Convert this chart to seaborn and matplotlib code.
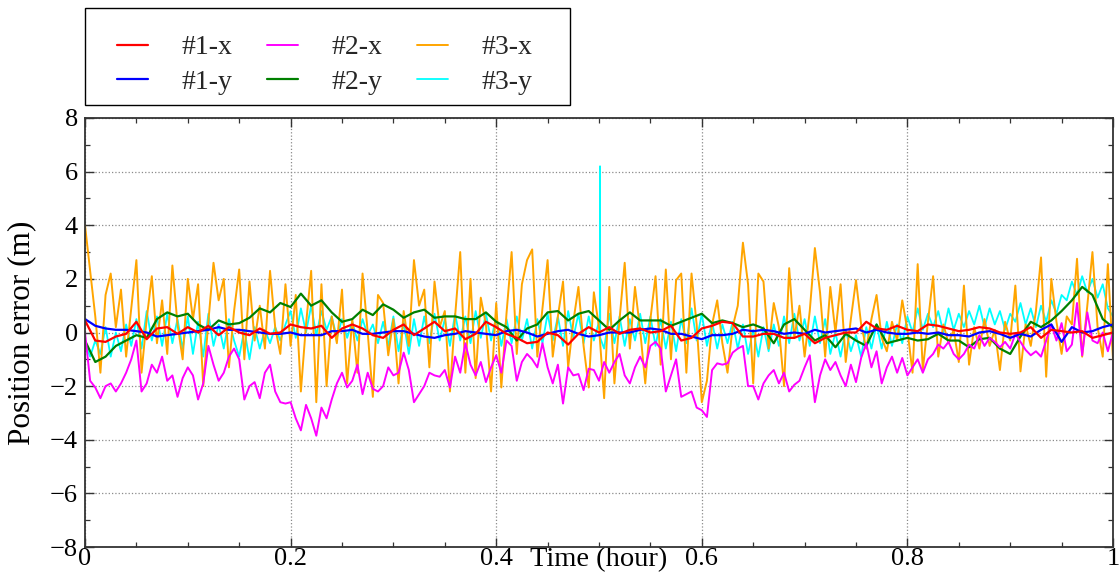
import numpy as np
import pandas as pd
import matplotlib
matplotlib.use("Agg")
import matplotlib.pyplot as plt
import seaborn as sns
from matplotlib.ticker import MultipleLocator, FuncFormatter
from matplotlib.patches import Rectangle

# ---------------- data ----------------
labels = ["#1-x", "#1-y", "#2-x", "#2-y", "#3-x", "#3-y"]
colors = ["#ff0000", "#0000ff", "#ff00ff", "#008000", "#ffa500", "#00ffff"]

t_fine = np.linspace(0.0, 1.0, 201)    # 0.005 h sampling
t_coarse = np.linspace(0.0, 1.0, 101)  # 0.01 h sampling

s1x = [0.45, -0.3, -0.35, -0.15, -0.05, 0.4, -0.25, 0.15, 0.2, -0.05,
       0.2, 0.0, 0.25, -0.1, 0.2, 0.0, -0.1, 0.15, -0.05, 0.0,
       0.3, 0.2, 0.15, 0.25, -0.2, 0.15, 0.3, 0.15, -0.1, -0.2,
       0.1, 0.3, -0.1, 0.15, 0.4, 0.05, 0.15, -0.25, -0.05, 0.4,
       0.2, -0.05, -0.2, -0.4, -0.35, 0.0, -0.1, -0.45, -0.05, 0.2,
       0.0, 0.2, -0.05, 0.1, 0.15, 0.0, 0.05, 0.25, -0.3, -0.2,
       0.15, 0.25, 0.4, 0.35, -0.15, -0.15, -0.05, -0.05, -0.2, -0.2,
       -0.05, -0.4, -0.2, -0.1, 0.0, 0.0, 0.4, 0.15, 0.1, 0.25,
       0.1, 0.05, 0.3, 0.25, 0.15, 0.05, 0.1, 0.2, 0.15, 0.0,
       -0.05, 0.0, 0.2, -0.2, 0.1, 0.05, 0.0, 0.05, -0.2, -0.1,
       0.0]

s1y = [0.5, 0.25, 0.15, 0.1, 0.1, 0.05, 0.0, -0.15, -0.1, -0.05,
       0.0, 0.05, 0.1, 0.2, 0.1, 0.1, 0.05, 0.0, -0.05, -0.05,
       0.0, -0.1, -0.1, -0.1, 0.05, 0.05, 0.1, -0.05, -0.05, 0.0,
       0.05, 0.05, -0.05, -0.15, -0.2, -0.1, -0.05, 0.05, 0.0, -0.05,
       -0.1, 0.05, 0.1, 0.0, -0.15, -0.05, 0.05, 0.1, -0.05, -0.15,
       -0.1, 0.0, 0.0, 0.0, 0.1, 0.15, 0.1, -0.05, -0.05, -0.15,
       -0.25, -0.1, -0.1, -0.05, 0.1, 0.05, 0.1, 0.05, -0.05, 0.0,
       -0.05, 0.1, 0.0, 0.05, 0.1, 0.15, 0.0, 0.1, 0.0, -0.05,
       -0.05, 0.0, -0.05, 0.0, -0.1, -0.1, -0.15, 0.0, 0.05, -0.05,
       -0.2, -0.05, -0.15, 0.1, 0.3, -0.35, 0.2, 0.0, 0.05, 0.2,
       0.3]

s2x = [0.0, -1.8, -2.05, -2.45, -2.0, -1.9, -2.2, -1.9, -1.5, -1.0,
       -0.3, -2.2, -1.9, -1.2, -1.5, -0.9, -1.8, -1.6, -2.4, -1.7,
       -1.3, -1.6, -2.5, -1.9, -0.5, -1.2, -1.8, -1.5, -0.9, -0.6,
       -1.0, -2.5, -2.0, -1.85, -2.45, -1.5, -1.2, -2.2, -2.6, -2.65,
       -2.6, -3.2, -3.65, -2.7, -3.2, -3.85, -2.8, -3.2, -2.5, -1.9,
       -1.5, -2.05, -1.8, -1.2, -2.3, -1.5, -2.1, -2.2, -2.0, -1.3,
       -1.6, -1.5, -0.75, -1.4, -2.6, -2.3, -2.0, -1.5, -1.6, -1.65,
       -1.4, -2.05, -0.9, -1.5, -0.4, -1.2, -1.6, -1.1, -1.85, -1.3,
       -0.85, -1.5, -0.3, -0.5, -1.8, -1.1, -0.8, -1.0, -1.3, -0.4,
       -1.3, -1.9, -1.2, -2.65, -1.3, -1.6, -1.55, -2.15, -1.35, -1.4,
       -1.8, -1.1, -1.5, -1.1, -0.8, -1.6, -1.9, -1.3, -0.9, -1.3,
       -0.5, -0.35, -0.6, -2.2, -1.6, -1.0, -2.4, -2.3, -2.2, -2.8,
       -2.9, -3.15, -1.4, -1.15, -1.2, -1.15, -0.75, -0.6, -0.5, -2.0,
       -2.0, -2.5, -1.9, -1.6, -1.4, -1.9, -1.5, -2.2, -1.95, -1.8,
       -1.3, -0.85, -2.6, -1.6, -1.0, -1.4, -1.1, -1.6, -2.0, -1.2,
       -1.85, -0.95, -0.4, -1.3, -0.7, -1.9, -1.3, -0.9, -1.5, -0.95,
       -1.6, -1.3, -1.0, -1.5, -1.0, -0.8, -0.45, -0.6, -0.35, -0.8,
       -1.0, -0.8, -0.45, -0.6, -0.1, -0.5, -0.2, -0.35, -0.55, -0.35,
       -0.6, -0.05, -0.35, -0.65, -0.85, -0.7, -0.9, -0.3, 0.3, -0.3,
       0.35, -0.7, -0.45, 1.1, -0.85, 0.75, -0.3, -0.4, 0.0, -0.7,
       0.0]

s2y = [-0.3, -1.1, -0.9, -0.5, -0.3, -0.1, -0.2, 0.5, 0.75, 0.6,
       0.7, 0.3, 0.1, 0.45, 0.3, 0.35, 0.55, 0.9, 0.75, 1.1,
       0.95, 1.45, 1.0, 1.2, 0.75, 0.4, 0.5, 0.85, 0.65, 1.05,
       0.85, 0.55, 0.75, 0.85, 0.55, 0.6, 0.6, 0.5, 0.5, 0.75,
       0.4, 0.2, -0.3, 0.15, 0.3, 0.75, 0.8, 0.45, 0.7, 0.8,
       0.45, 0.1, 0.45, 0.75, 0.45, 0.45, 0.45, 0.25, 0.4, 0.55,
       0.7, 0.35, 0.45, 0.35, 0.2, 0.3, 0.15, -0.4, 0.3, 0.5,
       0.1, -0.3, -0.1, -0.55, -0.05, -0.3, -0.5, 0.3, -0.4, -0.3,
       -0.2, -0.3, -0.25, -0.05, -0.3, -0.3, -0.55, -0.25, -0.2, -0.6,
       -0.8, -0.15, 0.4, 0.2, 0.45, 0.8, 1.2, 1.7, 1.4, 0.5,
       0.2]

s3x = [4.0, 2.3, 0.6, -1.5, 1.4, 2.2, 0.2, 1.6, -0.9, 0.9,
       2.7, -1.5, 0.5, 2.1, -0.4, 1.2, -0.8, 2.5, 0.3, -1.0,
       2.0, 0.5, 1.8, -2.0, 0.4, 2.6, 1.2, 2.0, -1.3, 0.8,
       2.35, -1.0, 1.9, -0.3, 1.0, -0.6, 2.3, 0.2, -0.8, 1.8,
       -0.5, 1.4, -2.2, 0.3, 2.3, -2.6, 1.8, -2.0, 0.6, -0.4,
       1.6, -1.9, 0.5, -1.5, 2.2, 0.0, -2.4, 1.4, 1.1, -0.85,
       0.5, -1.9, 0.8, -0.5, 2.7, 1.0, 1.6, -1.3, 1.9, 0.2,
       0.8, -2.2, 0.6, 3.0, -1.5, 2.0, -1.7, 1.3, 0.3, -2.2,
       1.1, -2.05, 0.7, 3.0, -0.8, 1.8, 2.7, 3.1, -0.9, 0.9,
       2.7, -0.9, 0.6, 1.9, -1.3, 0.4, 1.7, -0.5, -2.05, 1.5,
       0.2, -2.45, 1.7, -1.9, 0.5, 2.6, -0.6, 1.7, 0.1, -1.9,
       0.5, 2.1, -1.2, 2.35, -1.0, 1.95, 2.2, -1.5, 2.2, 0.3,
       -2.6, -1.8, 0.3, 1.2, -0.4, -1.5, 0.2, 1.0, 3.35, 1.8,
       -1.9, 2.2, 1.9, -0.6, 1.1, 0.2, -2.0, 2.4, -0.2, 1.0,
       -0.9, 0.8, 3.15, 1.5, -0.9, 1.7, 0.0, 1.8, -1.1, 0.5,
       1.95, 0.3, -0.6, 0.5, 1.4, -0.2, -0.7, 0.4, -0.3, 1.2,
       0.1, -1.5, 2.55, -1.4, 0.4, 2.1, -0.9, 0.3, -0.4, 0.1,
       -1.1, 1.75, -1.2, 0.2, -0.6, 0.5, -0.5, 0.1, -1.4, 0.4,
       -0.3, 1.75, -1.45, 0.3, -0.5, 0.8, 2.8, -1.65, 2.0, 0.4,
       -0.8, 0.6, 0.3, 2.75, -0.9, 1.0, 3.0, 0.2, -0.9, 2.55,
       -1.0]

s3y = [-0.4, -0.9, -0.3, -0.8, 0.2, -0.9, 0.0, -0.7, 0.3, -0.5,
       0.5, -0.6, 0.8, -0.3, 0.6, -0.5, 0.7, -0.4, 0.5, -0.6,
       0.6, -0.8, 0.4, -0.9, 0.7, -0.5, 0.3, -0.6, 0.5, -0.3,
       -0.9, 0.1, -1.0, 0.2, -0.6, 0.1, -0.4, 0.2, -0.3, 0.3,
       0.8, -0.2, 0.9, 0.0, 1.0, -0.1, 0.8, 0.1, 0.6, -0.2,
       0.5, -0.2, 0.4, -0.3, 0.5, -0.1, 0.3, -0.4, 0.4, -0.5,
       0.6, -0.7, 0.4, -0.8, 0.5, -0.5, 0.6, -0.4, 0.7, -0.3,
       0.5, -0.5, 0.7, -0.3, 0.6, -0.4, 0.8, -0.2, 0.7, -0.3,
       0.6, -0.5, 0.5, -0.4, 0.6, -0.3, 0.5, -0.6, 0.5, -0.4,
       0.7, -0.3, 0.6, -0.5, 0.8, -0.2, 0.7, -0.4, 0.6, -0.3,
       0.4, -0.6, 0.7, -0.4, 0.6, -0.5, 0.5, -0.3, 0.7, -0.4,
       0.6, -0.5, 0.5, -0.6, 0.4, -0.7, 0.5, -0.4, 0.9, -0.3,
       0.7, -0.5, 0.4, -0.6, 0.3, -0.4, 0.4, -0.6, 0.3, -0.8,
       0.1, -0.9, 0.2, -0.7, 0.3, -0.5, 0.6, -0.4, 0.7, -0.3,
       0.5, -0.5, 0.6, -0.4, 0.5, -0.8, 0.0, -0.9, 0.1, -0.7,
       -0.1, -0.9, 0.2, -0.6, 0.3, -0.6, 0.4, -0.5, 0.3, -0.4,
       0.6, 0.0, 0.9, 0.1, 0.7, 0.2, 0.8, 0.0, 0.9, 0.1,
       0.7, 0.2, 0.8, 0.3, 1.0, 0.2, 0.9, 0.3, 0.8, 0.1,
       0.7, 0.4, 1.1, 0.3, 0.9, 0.2, 1.0, 0.4, 1.2, 0.7,
       1.4, 1.2, 1.9, 1.4, 2.1, 1.5, 2.0, 1.3, 1.8, 0.9,
       0.6]

# single-sample glitch of #3-y near t = 0.5 h
s3y_spike_t = [0.5008, 0.5010, 0.5012]
s3y_spike_v = [0.4, 6.2, -0.2]

x_ticks = [0, 0.2, 0.4, 0.6, 0.8, 1]
y_ticks = [-8, -6, -4, -2, 0, 2, 4, 6, 8]

# ---------------- style ----------------
sns.set_theme(style="white")
plt.rcParams["font.family"] = ["Liberation Serif", "DejaVu Serif"]
plt.rcParams["axes.unicode_minus"] = True

W, H = 1120, 573
fig = plt.figure(figsize=(W / 100, H / 100), dpi=100)
ax = fig.add_axes([85 / W, 1 - 547 / H, 1028 / W, 429 / H])

# assemble series
t3y = np.concatenate([t_fine, s3y_spike_t])
v3y = np.concatenate([s3y, s3y_spike_v])
order = np.argsort(t3y, kind="stable")
t3y, v3y = t3y[order], v3y[order]

series = {
    "#1-x": (t_coarse, s1x),
    "#1-y": (t_coarse, s1y),
    "#2-x": (t_fine, s2x),
    "#2-y": (t_coarse, s2y),
    "#3-x": (t_fine, s3x),
    "#3-y": (t3y, v3y),
}
lw = {"#1-x": 1.6, "#1-y": 1.6, "#2-x": 1.4, "#2-y": 1.6, "#3-x": 1.4, "#3-y": 1.3}

handles = {}
draw_order = ["#3-y", "#3-x", "#2-y", "#2-x", "#1-y", "#1-x"]
for name in draw_order:
    t, v = series[name]
    col = colors[labels.index(name)]
    df = pd.DataFrame({"t": t, "v": v})
    n_before = len(ax.lines)
    sns.lineplot(data=df, x="t", y="v", ax=ax, color=col, linewidth=lw[name],
                 estimator=None, errorbar=None, sort=False, legend=False)
    handles[name] = ax.lines[n_before]

# axes
ax.set_xlim(0, 1)
ax.set_ylim(-8, 8)
ax.set_xticks(x_ticks)
ax.set_yticks(y_ticks)
ax.xaxis.set_minor_locator(MultipleLocator(0.05))
ax.yaxis.set_minor_locator(MultipleLocator(1))
ax.xaxis.set_major_formatter(FuncFormatter(lambda v, p: f"{v:g}"))
ax.yaxis.set_major_formatter(FuncFormatter(lambda v, p: f"{v:g}".replace("-", "\u2212")))
ax.tick_params(which="major", direction="in", length=6.5, width=1.0, color="#333333",
               top=True, right=True, bottom=True, left=True,
               labelsize=19, labelcolor="black")
ax.tick_params(axis="x", which="major", pad=0.5)
ax.tick_params(axis="y", which="major", pad=5)
ax.tick_params(which="minor", direction="in", length=3.3, width=0.9, color="#333333",
               top=True, right=True, bottom=True, left=True)
ax.grid(True, which="major", linestyle=":", linewidth=0.9, color="#8a8a8a")
for sp in ax.spines.values():
    sp.set_visible(True)
    sp.set_color("#333333")
    sp.set_linewidth(1.3)

ax.set_xlabel("Time (hour)", fontsize=20.5, color="black")
ax.xaxis.label.set_verticalalignment("baseline")
ax.xaxis.set_label_coords(0.5, -19 / 429)
ax.set_ylabel("Position error (m)", fontsize=22.5, color="black")
ax.yaxis.set_label_coords(-49 / 1028, 0.5)

# legend: frameless entries placed inside a separately drawn box
fs = 20
leg = fig.legend([handles[n] for n in labels], labels,
                 loc="upper left", bbox_to_anchor=(117 / W, 1 - 35 / H),
                 ncol=3, fontsize=fs, frameon=False,
                 handlelength=1.12, handletextpad=1.19, columnspacing=1.26,
                 borderpad=0.0, labelspacing=0.33, borderaxespad=0.0)
box = Rectangle((85 / W, 1 - 105 / H), 485 / W, 97 / H, transform=fig.transFigure,
                facecolor="white", edgecolor="black", linewidth=1.0, zorder=0)
fig.patches.append(box)

fig.savefig("out.png", dpi=100)
